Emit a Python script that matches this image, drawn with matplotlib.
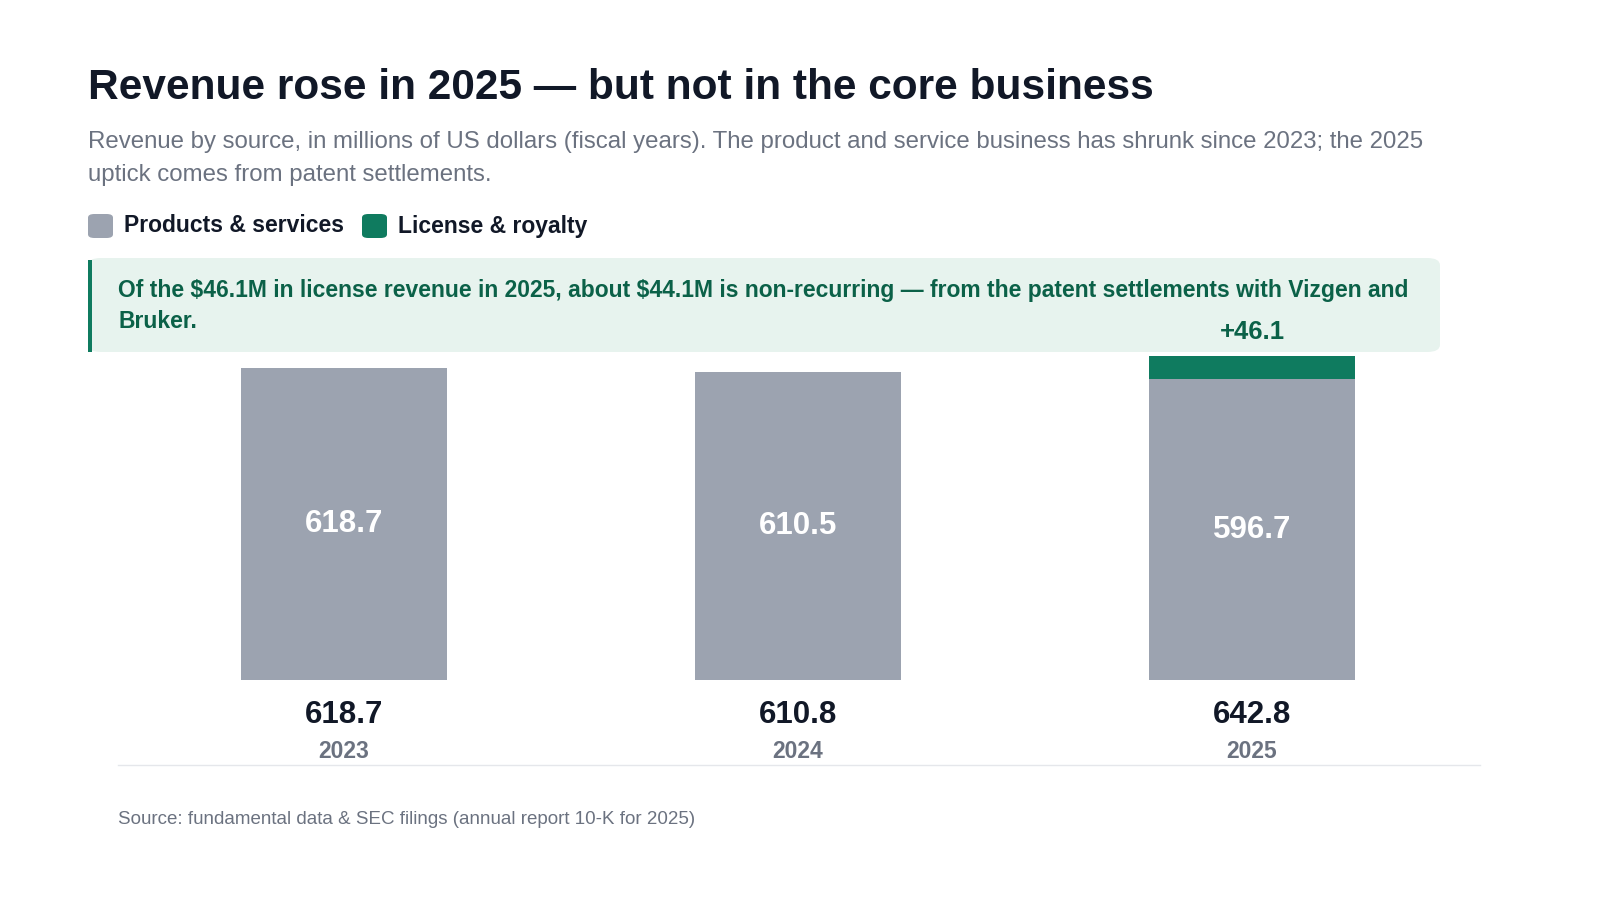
import matplotlib as mpl
mpl.use('Agg')
from matplotlib import pyplot as plt
from matplotlib.patches import FancyBboxPatch, Rectangle

years = ["2023", "2024", "2025"]
products = [618.7, 610.5, 596.7]
license_rev = [0.0, 0.3, 46.1]
totals = [618.7, 610.8, 642.8]

GREY = "#9ca3b0"
GREEN = "#0f7b5f"
DARK = "#111827"
MUTED = "#6b7280"

plt.rcParams['font.family'] = ['Liberation Sans', 'DejaVu Sans']

W, H = 1600, 900
fig = plt.figure(figsize=(16, 9), dpi=100)
fig.patch.set_facecolor("white")


def px(x, y):
    return x / W, 1 - y / H


def text(x, y, s, **kw):
    fig.text(*px(x, y), s, **kw)


text(88, 88, "Revenue rose in 2025 — but not in the core business", fontsize=30.5,
     fontweight="bold", color=DARK, va="center")
text(88, 142, "Revenue by source, in millions of US dollars (fiscal years). The product and service business has shrunk since 2023; the 2025",
     fontsize=17.3, color=MUTED, va="center")
text(88, 175, "uptick comes from patent settlements.", fontsize=17.3, color=MUTED, va="center")

# legend
for x0, c, lab in [(88, GREY, "Products & services"), (362, GREEN, "License & royalty")]:
    fig.patches.append(FancyBboxPatch(px(x0, 238), 25 / W, 24 / H, boxstyle="round,pad=0,rounding_size=0.004",
                                      transform=fig.transFigure, facecolor=c, edgecolor="none"))
    text(x0 + 36, 226, lab, fontsize=16.5, fontweight="bold", color=DARK, va="center")

# callout
fig.patches.append(FancyBboxPatch(px(88, 352), (1440 - 88) / W, 94 / H,
                                  boxstyle="round,pad=0,rounding_size=0.008",
                                  transform=fig.transFigure, facecolor="#e7f3ee", edgecolor="none"))
fig.patches.append(Rectangle(px(88, 352), 4 / W, 92 / H, transform=fig.transFigure,
                             facecolor=GREEN, edgecolor="none"))
text(118, 290, "Of the \\$46.1M in license revenue in 2025, about \\$44.1M is non-recurring — from the patent settlements with Vizgen and",
     fontsize=16.5, fontweight="bold", color="#0b6148", va="center")
text(118, 322, "Bruker.", fontsize=16.5, fontweight="bold", color="#0b6148", va="center")

# bars
scale = 0.504
ymax = 700
ax = fig.add_axes([118 / W, 1 - 680 / H, (1480 - 118) / W, ymax * scale / H])
ax.set_zorder(3)
ax.set_facecolor("none")
xs = range(len(years))
ax.bar(xs, products, width=0.452, color=GREY)
ax.bar(xs, license_rev, bottom=products, width=0.452, color=GREEN)
ax.set_xlim(-0.498, 2.502)
ax.set_ylim(0, ymax)
ax.axis("off")
for i in xs:
    ax.text(i, products[i] / 2, f"{products[i]:.1f}", ha="center", va="center",
            fontsize=22.5, fontweight="bold", color="white")
ax.text(2, products[2] + license_rev[2] + 48, f"+{license_rev[2]:.1f}", ha="center", va="center",
        fontsize=18.5, fontweight="bold", color="#0b6148", clip_on=False)

for i, (y, t) in enumerate(zip(years, totals)):
    cx = 344 + 454 * i
    text(cx, 715, f"{t:.1f}", fontsize=22.5, fontweight="bold", color=DARK, ha="center", va="center")
    text(cx, 752, y, fontsize=16.5, fontweight="bold", color=MUTED, ha="center", va="center")

fig.add_artist(plt.Line2D([118 / W, 1480 / W], [1 - 765 / H] * 2, color="#e5e7eb", lw=1,
                          transform=fig.transFigure))
text(118, 820, "Source: fundamental data & SEC filings (annual report 10-K for 2025)",
     fontsize=13.5, color=MUTED, va="center")

fig.savefig("out.png", dpi=100)
